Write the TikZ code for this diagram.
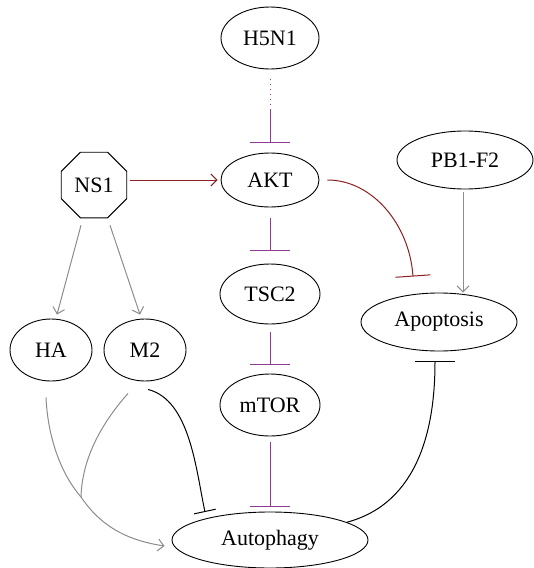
\documentclass[tikz,border=0pt]{standalone}
\usepackage{fontspec}
\setmainfont{Liberation Serif}
\usetikzlibrary{arrows.meta,shapes.geometric}
\definecolor{inhpurple}{RGB}{142,58,142}
\definecolor{actred}{RGB}{140,32,32}
\definecolor{actgray}{RGB}{140,140,140}
\tikzset{
  every node/.style={font=\fontsize{22}{26}\selectfont},
  oval/.style={draw, ellipse, inner sep=0pt, line width=0.9pt},
  octo/.style={draw, regular polygon, regular polygon sides=8, inner sep=0pt, minimum size=71pt, line width=0.9pt},
  purpinh/.style={draw=inhpurple, line width=1pt, -{Bar[width=40pt]}},
  redact/.style={draw=actred, line width=1pt, -{Straight Barb[length=6pt,width=12pt]}},
  redinh/.style={draw=actred, line width=1pt, -{Bar[width=35pt]}},
  grayact/.style={draw=actgray, line width=1pt, -{Straight Barb[length=6pt,width=12pt]}},
  grayline/.style={draw=actgray, line width=1pt},
  blackinh/.style={draw=black, line width=1pt, -{Bar[width=40pt]}},
}
\begin{document}
\begin{tikzpicture}[x=1pt,y=-1pt]
\useasboundingbox (0,0) rectangle (534,568);
% nodes
\node[oval, minimum width=98pt, minimum height=62pt] (H5N1) at (270,38) {H5N1};
\node[oval, minimum width=98pt, minimum height=54pt] (AKT) at (270,180) {AKT};
\node[octo] (NS1) at (94,185) {NS1};
\node[oval, minimum width=136pt, minimum height=58pt] (PB) at (465,160) {PB1-F2};
\node[oval, minimum width=156pt, minimum height=58pt] (Apop) at (439,322) {Apoptosis};
\node[oval, minimum width=100pt, minimum height=60pt] (TSC2) at (270,294) {TSC2};
\node[oval, minimum width=100pt, minimum height=62pt] (mTOR) at (270,405) {mTOR};
\node[oval, minimum width=82pt, minimum height=62pt] (HA) at (51,350) {HA};
\node[oval, minimum width=82pt, minimum height=62pt] (M2) at (145,350) {M2};
\node[oval, minimum width=196pt, minimum height=56pt] (Aut) at (270,540) {Autophagy};
% H5N1 -| AKT
\coordinate (hm) at (270,110);
\draw[inhpurple, line width=1pt, dash pattern=on 1pt off 4pt, shorten <=10pt] (H5N1.south) -- (hm);
\draw[purpinh, shorten >=10pt] (hm) -- (AKT.north);
% vertical chain
\draw[purpinh, shorten <=11pt, shorten >=13pt] (AKT.south) -- (TSC2.north);
\draw[purpinh, shorten <=8pt, shorten >=9pt] (TSC2.south) -- (mTOR.north);
\draw[purpinh, shorten <=6pt, shorten >=5pt] (mTOR.south) -- (Aut.north);
% NS1 -> AKT
\draw[redact, shorten <=3pt, shorten >=3pt] (NS1.east |- AKT.west) -- (AKT.west);
% AKT -| Apoptosis
\draw[redinh, shorten <=8pt] (AKT.east) to[out=0, in=94] ([xshift=-26pt, yshift=16pt]Apop.north);
% PB1-F2 -> Apoptosis
\draw[grayact, shorten <=3pt] ([xshift=-2pt]PB.south) -- ([xshift=-2pt]PB.south |- Apop.north);
% NS1 -> HA, M2
\draw[grayact] ([xshift=-13pt, yshift=-7pt]NS1.south) -- ([xshift=6pt, yshift=4pt]HA.north);
\draw[grayact] ([xshift=16pt, yshift=-7pt]NS1.south) -- ([xshift=-5pt, yshift=4pt]M2.north);
% HA -> Autophagy
\coordinate (merge) at (81,497);
\draw[grayact] ([xshift=-5pt, yshift=-16pt]HA.south) .. controls (48,440) and (62,475) .. (merge)
  .. controls (100,525) and (125,540) .. ([xshift=-7pt, yshift=-6pt]Aut.west);
\draw[grayline] ([xshift=-17pt, yshift=-12pt]M2.south) .. controls (100,425) and (82,460) .. (merge);
% M2 -| Autophagy
\draw[draw=black, line width=1pt, -{Bar[width=22pt]}] ([xshift=3pt, yshift=-8pt]M2.south) .. controls (190,400) and (196,470) .. (205,512);
% Autophagy -| Apoptosis
\draw[blackinh, shorten >=10pt] (Aut.13) to[out=15, in=-90] ([xshift=-4pt]Apop.south);
\end{tikzpicture}
\end{document}
